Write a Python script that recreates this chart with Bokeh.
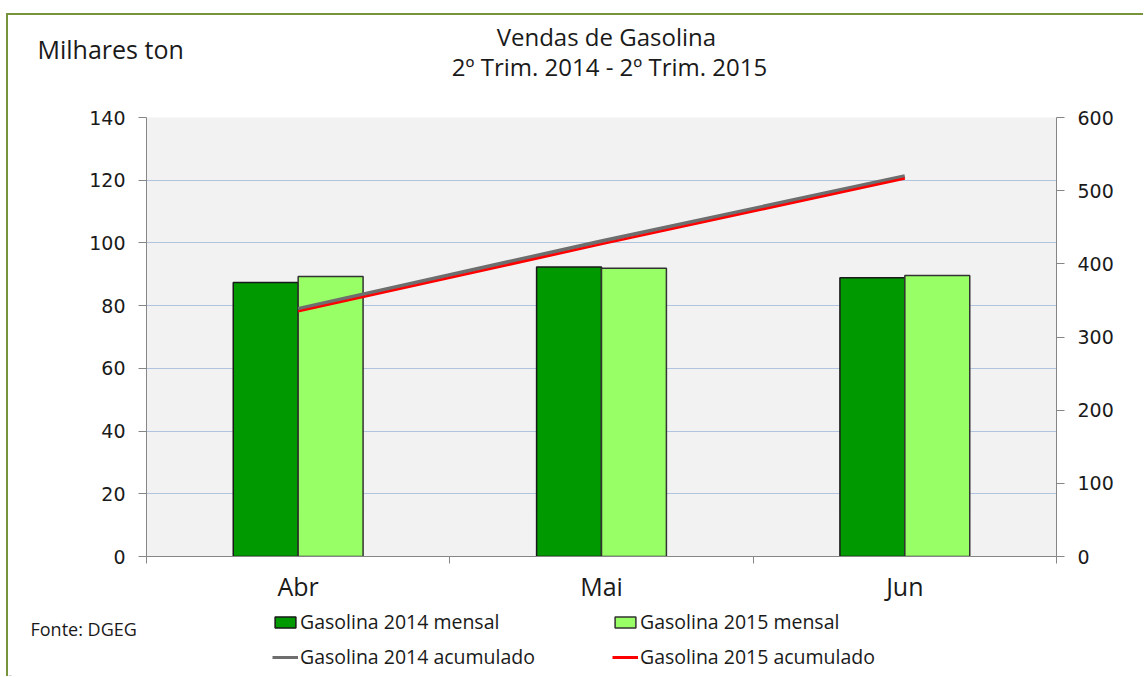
import numpy as np
from bokeh.plotting import figure
from bokeh.layouts import column
from bokeh.models import (Range1d, LinearAxis, FixedTicker, Label, Legend, LegendItem,
                          ColumnDataSource)
from bokeh.embed import file_html
from bokeh.resources import INLINE

months = ["Abr", "Mai", "Jun"]
mensal_2014 = [87.4, 92.3, 88.9]
mensal_2015 = [89.3, 91.9, 89.6]
acum_2014 = [338.5, 430.8, 519.7]
acum_2015 = [335.0, 426.9, 516.5]
left_ticks = [0, 20, 40, 60, 80, 100, 120, 140]
right_ticks = [0, 100, 200, 300, 400, 500, 600]

W = 1135
TXT = "#1a1a1a"
C14, C15 = "#009900", "#99FF66"
L14, L15 = "#6E6E6E", "#FF0000"

xc = np.arange(len(months)) + 0.5
bw = 0.214
src = ColumnDataSource(dict(x=xc, x14=xc - bw / 2, x15=xc + bw / 2,
                            m14=mensal_2014, m15=mensal_2015,
                            a14=acum_2014, a15=acum_2015))

def blank(h):
    f = figure(width=W, height=h, output_backend="svg", toolbar_location=None,
               x_range=Range1d(0, W), y_range=Range1d(0, h), min_border=0,
               outline_line_color=None, background_fill_color="white",
               border_fill_color="white", frame_align=False)
    f.axis.visible = False
    f.grid.visible = False
    return f

def lab(f, text, x, y, size, align="left", font="Open Sans"):
    f.add_layout(Label(x=x, y=y, x_units="screen", y_units="screen", text=text,
                       text_font=font, text_font_size=size, text_align=align,
                       text_baseline="middle", text_color=TXT))

# ---- top: titles
top = blank(92)
lab(top, "Milhares ton", 29, 59, "25px")
lab(top, "Vendas  de Gasolina", 601, 71, "24px", align="center")
lab(top, "2º Trim. 2014 - 2º Trim. 2015", 601, 41, "24px", align="center")

# ---- main plot
p = figure(width=W, height=499, output_backend="svg", toolbar_location=None,
           x_range=Range1d(0, len(months)), y_range=Range1d(0, 140),
           min_border_left=138, min_border_top=10, min_border_right=87,
           min_border_bottom=50, background_fill_color="#F2F2F2",
           border_fill_color="white", outline_line_color=None, frame_align=False)
p.extra_y_ranges = {"acc": Range1d(0, 600)}

TICK_FONT = "DejaVu Sans"
AX_COL = "#868686"

def style_y(ax):
    ax.axis_line_color = AX_COL
    ax.major_tick_line_color = AX_COL
    ax.major_tick_out = 8
    ax.major_tick_in = 0
    ax.minor_tick_line_color = None
    ax.major_label_text_font = TICK_FONT
    ax.major_label_text_font_size = "19px"
    ax.major_label_text_color = TXT
    ax.major_label_standoff = 13

ya = p.yaxis[0]
ya.ticker = FixedTicker(ticks=left_ticks)
style_y(ya)
ra = LinearAxis(y_range_name="acc", ticker=FixedTicker(ticks=right_ticks))
style_y(ra)
p.add_layout(ra, "right")

xa = p.xaxis[0]
xa.ticker = FixedTicker(ticks=list(xc), minor_ticks=list(range(len(months) + 1)))
xa.major_label_overrides = {float(v): m for v, m in zip(xc, months)}
xa.major_tick_line_color = None
xa.minor_tick_line_color = AX_COL
xa.minor_tick_out = 7
xa.minor_tick_in = 0
xa.axis_line_color = AX_COL
xa.major_label_text_font = "Open Sans"
xa.major_label_text_font_size = "25px"
xa.major_label_text_color = TXT
xa.major_label_standoff = 5

p.xgrid.grid_line_color = None
p.ygrid.grid_line_color = "#6F96CF"
p.ygrid.grid_line_dash = "1 1"
p.ygrid.grid_line_width = 1

p.vbar(x="x14", top="m14", width=bw, source=src, fill_color=C14,
       line_color="#1a1a1a", line_width=1.5)
p.vbar(x="x15", top="m15", width=bw, source=src, fill_color=C15,
       line_color="#333333", line_width=1.5)
p.line(x="x", y="a14", source=src, y_range_name="acc", line_color=L14, line_width=4)
p.line(x="x", y="a15", source=src, y_range_name="acc", line_color=L15, line_width=2.5)

# ---- bottom: legend + source
bot = blank(70)
bot.extra_y_ranges = {"hidden": Range1d(100000, 100001)}
d14 = bot.vbar(x="x14", top="m14", width=bw, source=src, fill_color=C14,
               line_color="#1a1a1a", line_width=1.5, y_range_name="hidden")
d15 = bot.vbar(x="x15", top="m15", width=bw, source=src, fill_color=C15,
               line_color="#333333", line_width=1.5, y_range_name="hidden")
e14 = bot.line(x="x", y="a14", source=src, line_color=L14, line_width=3,
               y_range_name="hidden")
e15 = bot.line(x="x", y="a15", source=src, line_color=L15, line_width=3,
               y_range_name="hidden")

def mk_legend(items, loc):
    lg = Legend(items=items, location=loc, orientation="horizontal",
                border_line_color=None, background_fill_alpha=0, padding=0,
                margin=0, spacing=10, label_width=302, glyph_width=26,
                glyph_height=14, label_standoff=2, label_height=20,
                label_text_font="Open Sans", label_text_font_size="19.5px",
                label_text_color=TXT)
    bot.add_layout(lg, "center")

mk_legend([LegendItem(label="Gasolina 2014 mensal", renderers=[d14]),
           LegendItem(label="Gasolina 2015 mensal", renderers=[d15])], (264, 41))
mk_legend([LegendItem(label="Gasolina 2014 acumulado", renderers=[e14]),
           LegendItem(label="Gasolina 2015 acumulado", renderers=[e15])], (264, 6))
lab(bot, "Fonte: DGEG", 22, 48, "18px")

layout = column(top, p, bot, spacing=0)
layout.styles = {"margin-top": "13px", "margin-left": "6px",
                 "border-left": "2px solid #77933C", "border-top": "2px solid #77933C"}

open("out.html", "w").write(file_html(layout, INLINE))
